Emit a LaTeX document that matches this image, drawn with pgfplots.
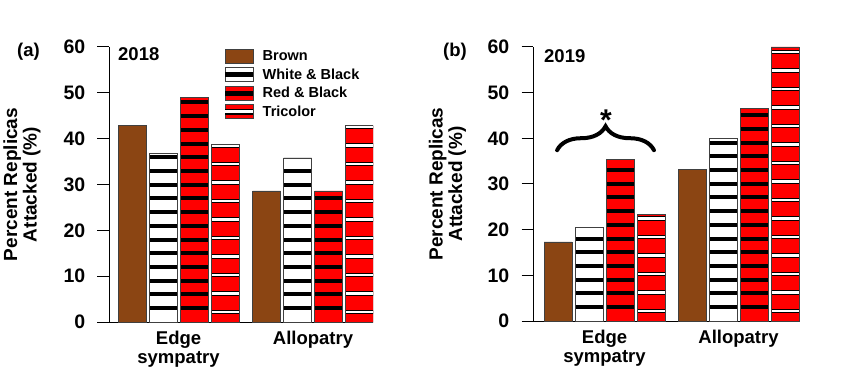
\documentclass[border=0pt]{standalone}
\usepackage{fontspec}
\setmainfont{Liberation Sans}
\usepackage{pgfplots}
\usepackage{pgfplotstable}
\pgfplotsset{compat=1.18}
\usetikzlibrary{decorations.pathreplacing}

\definecolor{brn}{HTML}{8B4513}
\definecolor{rd}{HTML}{FF0000}

\pgfplotstableread{
x  br    wb    rb    tc
0  42.8  36.7  49.0  38.8
1  28.6  35.8  28.6  42.8
}\dataA
\pgfplotstableread{
x  br    wb    rb    tc
0  17.3  20.5  35.4  23.4
1  33.2  39.9  46.6  60.0
}\dataB

\newif\ifbands \bandstrue
% horizontal bands inside a bar: #1 offset, #2 spacing, #3 count, #4 half width, #5 colour
\newcommand\barbands[5]{%
  \ifbands
  \foreach \k in {0,...,#3}{%
    \pgfmathsetlengthmacro\ylo{#1+\k*#2-#4}%
    \pgfmathsetlengthmacro\yhi{#1+\k*#2+#4}%
    \pgfsetfillcolor{#5}%
    \pgfpathrectanglecorners
      {\pgfpointadd{\pgfpointanchor{path picture bounding box}{south west}}{\pgfpoint{0pt}{\ylo}}}
      {\pgfpointadd{\pgfpointanchor{path picture bounding box}{south east}}{\pgfpoint{0pt}{\yhi}}}%
    \pgfusepath{fill}%
  }%
  \fi}

\tikzset{
  bdr/.style={draw=black!75, line width=0.8pt},
  blackstripes/.style={path picture={\barbands{14pt}{13.7pt}{20}{2pt}{black}}},
  tristripes/.style={path picture={\barbands{10pt}{18.5pt}{15}{2.3pt}{black}\barbands{10pt}{18.5pt}{15}{1.2pt}{white}}},
  brownbar/.style={fill=brn, bdr},
  wbbar/.style={fill=white, bdr, blackstripes},
  rbbar/.style={fill=rd, bdr, blackstripes},
  tcbar/.style={fill=rd, bdr, tristripes},
}

\pgfplotsset{
  panel/.style={
    scale only axis,
    ybar=3pt, bar width=28pt,
    ymin=0, ymax=60,
    axis x line*=bottom, axis y line*=left,
    axis line style={line width=1pt, black},
    xtick={0,1},
    x tick style={draw=none},
    ytick={0,10,20,30,40,50,60},
    tick align=outside,
    major tick length=11.5pt,
    y tick style={line width=1pt, black},
    /pgf/number format/assume math mode=true,
    y tick label style={font=\bfseries\fontsize{19.5}{20}\selectfont, anchor=east, inner sep=0pt, xshift=-12pt},
    x tick label style={font=\bfseries\fontsize{18.5}{19.5}\selectfont, align=center, anchor=north, inner sep=0pt, yshift=3pt},
    ylabel={Percent Replicas\\Attacked (\%)},
    ylabel style={font=\bfseries\fontsize{19}{19.5}\selectfont, align=center, anchor=center},
  },
}

\begin{document}
\begin{tikzpicture}
\path[use as bounding box] (0pt,0pt) rectangle (850pt,372pt);

% ---------- panel (a) ----------
\begin{axis}[panel,
  at={(109pt,50pt)}, anchor=south west,
  width=264pt, height=275pt,
  xmin=-0.517, xmax=1.446,
  xticklabels={Edge\\sympatry, Allopatry},
  ylabel style={at={(axis description cs:-0.33,0.5)}},
  legend style={at={(0.439,0.993)}, anchor=north west, draw=none, fill=none,
    font=\bfseries\fontsize{14.5}{15}\selectfont, cells={anchor=west},
    row sep=2.4pt, inner sep=0pt, outer sep=0pt,
    /tikz/every odd column/.style={column sep=7pt}},
]
\addplot[brownbar, legend image code/.code={\bandsfalse\draw[fill=brn,draw=black!75,line width=0.8pt] (0pt,-7pt) rectangle (28pt,7pt);}] table[x=x,y=br]{\dataA};
\addlegendentry{Brown}
\addplot[wbbar, legend image code/.code={\bandsfalse\draw[fill=white,draw=black!75,line width=0.8pt] (0pt,-7pt) rectangle (28pt,7pt); \fill[black] (0.4pt,-2pt) rectangle (27.6pt,2pt);}] table[x=x,y=wb]{\dataA};
\addlegendentry{White \& Black}
\addplot[rbbar, legend image code/.code={\bandsfalse\draw[fill=rd,draw=black!75,line width=0.8pt] (0pt,-7pt) rectangle (28pt,7pt); \fill[black] (0.4pt,-2pt) rectangle (27.6pt,2pt);}] table[x=x,y=rb]{\dataA};
\addlegendentry{Red \& Black}
\addplot[tcbar, legend image code/.code={\bandsfalse\draw[fill=rd,draw=black!75,line width=0.8pt] (0pt,-7pt) rectangle (28pt,7pt); \fill[black] (0.4pt,-2.4pt) rectangle (27.6pt,2.4pt); \fill[white] (0.4pt,-1.2pt) rectangle (27.6pt,1.2pt);}] table[x=x,y=tc]{\dataA};
\addlegendentry{Tricolor}
\end{axis}

% ---------- panel (b) ----------
\begin{axis}[panel,
  at={(533pt,51pt)}, anchor=south west,
  width=267pt, height=274pt,
  xmin=-0.534, xmax=1.459,
  xticklabels={Edge\\sympatry, Allopatry},
  ylabel style={at={(axis description cs:-0.32,0.5)}},
]
\addplot[brownbar] table[x=x,y=br]{\dataB};
\addplot[wbbar] table[x=x,y=wb]{\dataB};
\addplot[rbbar] table[x=x,y=rb]{\dataB};
\addplot[tcbar] table[x=x,y=tc]{\dataB};
\draw[decorate, decoration={brace, amplitude=24pt}, line width=4pt, line cap=round]
  (axis cs:-0.354,37.4) -- (axis cs:0.369,37.4);
\node[font=\bfseries\fontsize{30}{30}\selectfont, inner sep=0pt] at (axis cs:0.011,44.0) {*};
\end{axis}

% panel letters and years
\node[anchor=west, inner sep=0pt, font=\bfseries\fontsize{18.5}{19}\selectfont] at (17pt,320pt) {(a)};
\node[anchor=west, inner sep=0pt, font=\bfseries\fontsize{18.5}{19}\selectfont] at (443pt,320pt) {(b)};
\node[anchor=west, inner sep=0pt, font=\bfseries\fontsize{18.5}{19}\selectfont] at (118pt,318pt) {2018};
\node[anchor=west, inner sep=0pt, font=\bfseries\fontsize{18.5}{19}\selectfont] at (544pt,316pt) {2019};
\end{tikzpicture}
\end{document}
